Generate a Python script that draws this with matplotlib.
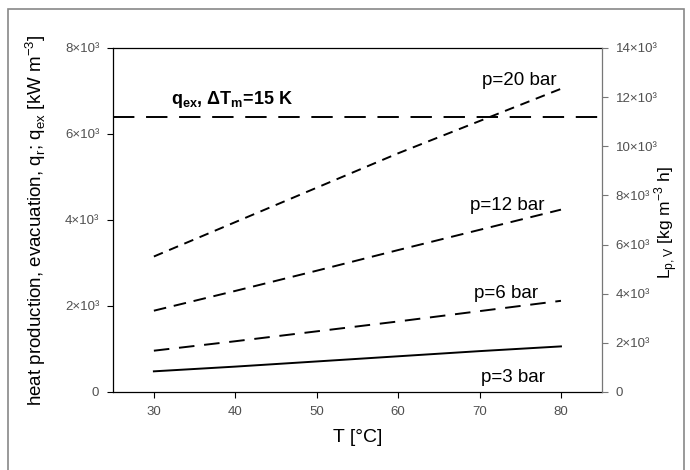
import numpy as np
import matplotlib
matplotlib.use("Agg")
import matplotlib.pyplot as plt
from matplotlib.patches import Rectangle

plt.rcParams['font.family'] = ['Liberation Sans', 'DejaVu Sans']

# ---- data (left axis, kW m-3) ----
T = [30, 40, 50, 60, 70, 80]
q_20bar = [3150, 3950, 4750, 5550, 6300, 7050]
q_12bar = [1890, 2350, 2820, 3300, 3770, 4240]
q_6bar = [960, 1180, 1410, 1640, 1880, 2120]
q_3bar = [480, 590, 710, 830, 950, 1060]
q_ex = 6390

left_ticks = [0, 2000, 4000, 6000, 8000]
left_labels = ['0', '2×10³', '4×10³', '6×10³', '8×10³']
right_ticks = [0, 2000, 4000, 6000, 8000, 10000, 12000, 14000]
right_labels = ['0', '2×10³', '4×10³', '6×10³', '8×10³', '10×10³', '12×10³', '14×10³']
x_ticks = [30, 40, 50, 60, 70, 80]

fig = plt.figure(figsize=(6.9, 4.7), dpi=100)
ax = fig.add_axes([0.164, 0.166, 0.708, 0.732])

ax.plot(T, q_20bar, color='black', lw=1.4, dashes=(5, 3.5))
ax.plot(T, q_12bar, color='black', lw=1.4, dashes=(6.5, 4))
ax.plot(T, q_6bar, color='black', lw=1.4, dashes=(8, 5))
ax.plot(T, q_3bar, color='black', lw=1.4)
ax.axhline(q_ex, color='black', lw=1.4, dashes=(11, 6))

ax.set_xlim(25, 85)
ax.set_ylim(0, 8000)
ax.set_xticks(x_ticks)
ax.set_yticks(left_ticks)
ax.set_yticklabels(left_labels)
ax.tick_params(direction='out', length=4, width=0.8, labelsize=9.5, labelcolor='#505050', pad=6)

for side in ['left', 'bottom', 'top']:
    ax.spines[side].set_linewidth(0.9)
ax.spines['right'].set_visible(False)

ax.set_xlabel('T [°C]', fontsize=14, labelpad=8)
ax.set_ylabel('heat production, evacuation, q$_\\mathregular{r}$; q$_\\mathregular{ex}$ [kW m$^\\mathregular{-3}$]',
              fontsize=13.5)
ax.yaxis.set_label_coords(-0.133, 0.5)

ax.text(79.5, 7240, 'p=20 bar', fontsize=13.5, ha='right', va='center')
ax.text(78.0, 4340, 'p=12 bar', fontsize=13.5, ha='right', va='center')
ax.text(77.2, 2300, 'p=6 bar', fontsize=13.5, ha='right', va='center')
ax.text(78.0, 340, 'p=3 bar', fontsize=13.5, ha='right', va='center')
ax.text(32.1, 6800, 'q$_\\mathregular{ex}$, ΔT$_\\mathregular{m}$=15 K', fontsize=13,
        fontweight='bold', ha='left', va='center')

ax2 = ax.twinx()
ax2.set_ylim(0, 14000)
ax2.set_yticks(right_ticks)
ax2.set_yticklabels(right_labels)
ax2.tick_params(direction='out', length=4, width=0.8, color='#777777',
                labelsize=9.5, labelcolor='#505050', pad=6)
for side in ['left', 'bottom', 'top']:
    ax2.spines[side].set_visible(False)
ax2.spines['right'].set_color('#777777')
ax2.spines['right'].set_linewidth(0.9)

# right-hand axis title, right of the tick label column
fig.text(0.966, 0.526, 'L$_\\mathregular{p,V}$ [kg m$^\\mathregular{-3}$ h]', fontsize=12.5,
         rotation=90, ha='center', va='center')

# gray frame round the whole figure
fig.patches.append(Rectangle((0.012, -0.01), 0.98, 0.99, transform=fig.transFigure,
                             fill=False, edgecolor='#888888', lw=1.2))

fig.savefig('out.png', dpi=100)
